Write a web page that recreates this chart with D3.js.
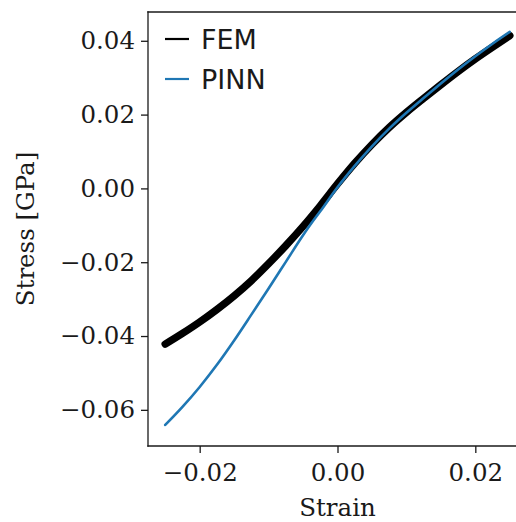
<!DOCTYPE html>
<html>
<head>
<meta charset="utf-8">
<script src="https://cdn.jsdelivr.net/npm/d3@7"></script>
<style>
  html, body { margin: 0; padding: 0; background: #fff; }
  svg { display: block; }
</style>
</head>
<body>
<svg id="chart" width="516" height="522"></svg>
<script>
// ---- data ----
const femStrain = [-0.025, -0.0225, -0.02, -0.0175, -0.015, -0.0125, -0.01, -0.0075, -0.005, -0.0025, 0, 0.0025, 0.005, 0.0075, 0.01, 0.0125, 0.015, 0.0175, 0.02, 0.0225, 0.025];
const femStress = [-0.0422, -0.0393, -0.0362, -0.0328, -0.0291, -0.0250, -0.0204, -0.0155, -0.0103, -0.0047, 0.0012, 0.0068, 0.0119, 0.0165, 0.0206, 0.0244, 0.0281, 0.0317, 0.0351, 0.0383, 0.0414];
const pinnStrain = [-0.025, -0.0225, -0.02, -0.0175, -0.015, -0.0125, -0.01, -0.0075, -0.005, -0.004, -0.0025, 0, 0.0025, 0.005, 0.0075, 0.01, 0.0125, 0.015, 0.0175, 0.02, 0.0225, 0.025];
const pinnStress = [-0.0641, -0.0592, -0.0538, -0.0478, -0.0412, -0.0342, -0.0271, -0.0199, -0.0127, -0.0100, -0.0062, 0.0003, 0.0061, 0.0114, 0.0162, 0.0205, 0.0245, 0.0284, 0.0322, 0.0358, 0.0392, 0.0424];
const xTicks = [-0.02, 0.00, 0.02];
const yTicks = [-0.06, -0.04, -0.02, 0.00, 0.02, 0.04];
const seriesNames = ["FEM", "PINN"];
const seriesColors = ["#000000", "#1f77b4"];

// ---- layout ----
const mLeft = 148, mTop = 12, mBottom = 446, mRight = 527;
const svg = d3.select("#chart");
const x = d3.scaleLinear().domain([-0.0275, 0.0275]).range([mLeft, mRight]);
const y = d3.scaleLinear().domain([-0.0698, 0.0478]).range([mBottom, mTop]);

const fmt = d => (d < 0 ? "\u2212" : "") + Math.abs(d).toFixed(2);
const textColor = "#1a1a1a";

// lines
const femData = femStrain.map((s, i) => [s, femStress[i]]);
const pinnData = pinnStrain.map((s, i) => [s, pinnStress[i]]);
const line = d3.line().x(d => x(d[0])).y(d => y(d[1])).curve(d3.curveMonotoneX);

svg.append("path").datum(femData).attr("d", line)
  .attr("fill", "none").attr("stroke", seriesColors[0]).attr("stroke-width", 7.5)
  .attr("stroke-linecap", "round").attr("stroke-linejoin", "round");
svg.append("path").datum(pinnData).attr("d", line)
  .attr("fill", "none").attr("stroke", seriesColors[1]).attr("stroke-width", 2.6)
  .attr("stroke-linecap", "round").attr("stroke-linejoin", "round");

// axes
const xAxis = d3.axisBottom(x).tickValues(xTicks).tickFormat(fmt).tickSize(7).tickSizeOuter(0).tickPadding(5);
const yAxis = d3.axisLeft(y).tickValues(yTicks).tickFormat(fmt).tickSize(7).tickSizeOuter(0).tickPadding(6);

const gx = svg.append("g").attr("transform", `translate(0,${mBottom})`).call(xAxis);
const gy = svg.append("g").attr("transform", `translate(${mLeft},0)`).call(yAxis);
[gx, gy].forEach(g => {
  g.select(".domain").remove();
  g.selectAll(".tick line").attr("stroke", textColor).attr("stroke-width", 1.3);
  g.selectAll(".tick text").attr("fill", textColor)
    .style("font-family", "'DejaVu Serif', serif").style("font-size", "24.5px");
});
gx.selectAll(".tick text").attr("dy", "0.95em");

// spines
const spine = (x1, y1, x2, y2) => svg.append("line")
  .attr("x1", x1).attr("y1", y1).attr("x2", x2).attr("y2", y2)
  .attr("stroke", textColor).attr("stroke-width", 1.3).attr("stroke-linecap", "square");
spine(mLeft, mTop, mLeft, mBottom);
spine(mLeft, mTop, mRight, mTop);
spine(mLeft, mBottom, mRight, mBottom);
spine(mRight, mTop, mRight, mBottom);

// axis labels
svg.append("text").attr("x", (mLeft + mRight) / 2).attr("y", 516)
  .attr("text-anchor", "middle").attr("fill", textColor)
  .style("font-family", "'DejaVu Serif', serif").style("font-size", "24.5px")
  .text("Strain");
svg.append("text").attr("transform", `translate(34,${(mTop + mBottom) / 2}) rotate(-90)`)
  .attr("text-anchor", "middle").attr("fill", textColor)
  .style("font-family", "'DejaVu Serif', serif").style("font-size", "24.5px")
  .text("Stress [GPa]");

// legend
const legend = svg.append("g");
seriesNames.forEach((name, i) => {
  const cy = 39 + i * 40;
  legend.append("line").attr("x1", 165).attr("x2", 189).attr("y1", cy).attr("y2", cy)
    .attr("stroke", seriesColors[i]).attr("stroke-width", 2.2);
  legend.append("text").attr("x", 201).attr("y", cy + 10).attr("fill", textColor)
    .style("font-family", "'DejaVu Sans', sans-serif").style("font-size", "27px")
    .text(name);
});
</script>
</body>
</html>
